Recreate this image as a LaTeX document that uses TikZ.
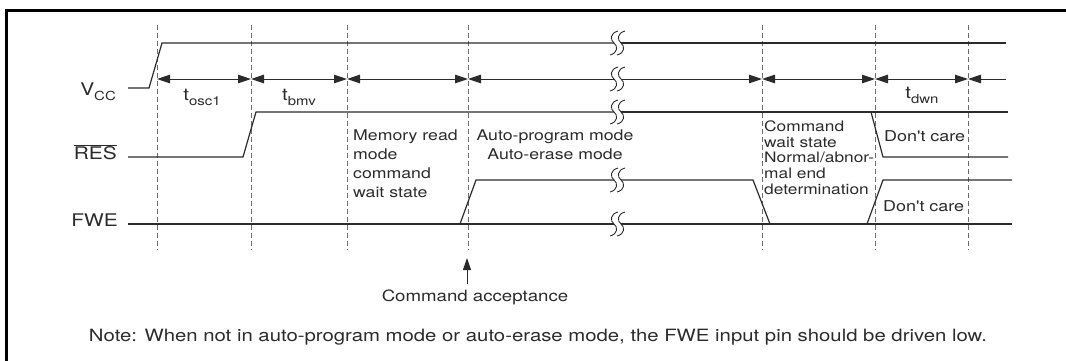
\documentclass[tikz,border=0pt]{standalone}
\usepackage{fontspec}
\setmainfont{TeX Gyre Heros}[FakeStretch=1.2]
\newfontfamily\qfont{TeX Gyre Heros}[FakeStretch=1.2]
\usetikzlibrary{arrows.meta}
\definecolor{ink}{HTML}{2B2B2B}
\definecolor{gridc}{HTML}{6E6E6E}
\newcommand{\sublbl}[1]{\raisebox{-0.3em}{\fontsize{12.5}{13}\selectfont #1}}
\begin{document}
\begin{tikzpicture}[x=1bp,y=-1bp,
  sig/.style={line width=1.2bp, draw=ink},
  gridline/.style={line width=0.8bp, draw=gridc, dash pattern=on 4.5bp off 3.5bp},
  dim/.style={line width=1bp, draw=ink},
  tri/.tip={Triangle[length=13bp,width=8.5bp]},
  signame/.style={font=\fontsize{17.5}{19}\selectfont, inner sep=0pt, text=ink},
  tlbl/.style={font=\fontsize{17}{19}\selectfont, inner sep=0pt, text=ink},
  state/.style={font=\fontsize{14.8}{19}\selectfont, inner sep=0pt, text=ink, align=left},
  dcare/.style={font=\qfont\fontsize{15}{18}\selectfont, inner sep=0pt, text=ink},
  acc/.style={font=\fontsize{15.6}{18}\selectfont, inner sep=0pt, text=ink},
  notelbl/.style={font=\fontsize{17}{20}\selectfont, inner sep=0pt, text=ink},
  brk/.pic={\draw[line width=0.9bp, draw=ink] (4,-12) .. controls (-4,-10) and (-4,-3) .. (0,0) .. controls (4,3) and (4,10) .. (-4,12);}
]
\useasboundingbox (0,0) rectangle (1066,360);
% frame (cropped box: top and left edges)
\draw[line width=3bp, draw=black] (6,362) -- (6,10) -- (1068,10);

% dashed reference lines
\foreach \x in {157,251,347,468,762,875,968}
  \draw[gridline] (\x,25) -- (\x,250);

% VCC
\draw[sig] (128,88) -- (149,88) -- (162,43) -- (614,43);
\draw[sig] (621,43) -- (1006,43);

% timing arrows
\draw[dim,tri-tri] (157,79) -- (251,79);
\draw[dim,tri-tri] (251,79) -- (347,79);
\draw[dim,tri-tri] (347,79) -- (468,79);
\draw[dim,tri-] (468,79) -- (614,79);
\draw[dim,-tri] (621,79) -- (762,79);
\draw[dim,tri-tri] (762,79) -- (875,79);
\draw[dim,tri-tri] (875,79) -- (968,79);
\draw[dim,tri-] (968,79) -- (1006,79);

% RES
\draw[sig] (128,157) -- (243,157) -- (256,112) -- (614,112);
\draw[sig] (621,112) -- (1008,112);
\draw[sig] (871,112) -- (883,157) -- (1008,157);

% FWE
\draw[sig] (128,224) -- (614,224);
\draw[sig] (621,224) -- (1012,224);
\draw[sig] (460,224) -- (476,180) -- (614,180);
\draw[sig] (621,180) -- (753,180) -- (770,224);
\draw[sig] (867,224) -- (883,180) -- (1012,180);

% break marks
\foreach \y in {43,79,112,180,224} {
  \pic at (614,\y) {brk};
  \pic at (621,\y) {brk};
}

% signal names
\node[signame, anchor=base east] (vcc) at (116,95) {V\sublbl{CC}};
\node[signame, anchor=base east] (res) at (117,159.5) {$\overline{\mbox{RES}}$};
\node[signame, anchor=base east] (fwe) at (118,226.5) {FWE};

% timing labels
\node[tlbl, anchor=base] (tosc) at (202,100) {t\sublbl{osc1}};
\node[tlbl, anchor=base] (tbmv) at (299,100) {t\sublbl{bmv}};
\node[tlbl, anchor=base] (tdwn) at (922,98) {t\sublbl{dwn}};

% state texts
\node[state, anchor=north west] (memrd) at (353,129.5) {Memory read\\mode\\command\\wait state};
\node[state, anchor=north, align=center] (auto) at (555,129.5) {Auto-program mode\\Auto-erase mode};
\node[state, anchor=north west, font=\fontsize{14.5}{15.8}\selectfont] (cmdwait) at (764,120.5) {Command\\wait state\\Normal/abnor-\\mal end\\determination};
\node[dcare, anchor=west] (dc1) at (884,136) {Don't care};
\node[dcare, anchor=west] (dc2) at (883,206) {Don't care};

% command acceptance
\node[acc] (cmdacc) at (475,297) {Command acceptance};
\coordinate (acctip) at (467,258);
\coordinate (accbase) at (467,284);
\draw[dim,-{Triangle[length=12bp,width=8bp]}] (accbase) -- (acctip);

% note
\node[notelbl] (note) at (538,337) {Note: When not in auto-program mode or auto-erase mode, the FWE input pin should be driven low.};
\end{tikzpicture}
\end{document}
